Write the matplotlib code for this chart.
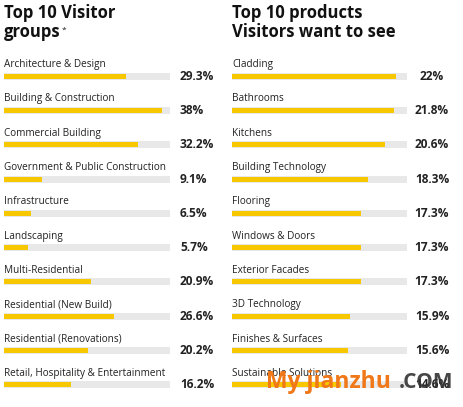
import matplotlib.pyplot as plt
import matplotlib.transforms as mtransforms

# data
visitor_groups = ['Architecture & Design', 'Building & Construction', 'Commercial Building',
                  'Government & Public Construction', 'Infrastructure', 'Landscaping',
                  'Multi-Residential', 'Residential (New Build)', 'Residential (Renovations)',
                  'Retail, Hospitality & Entertainment']
visitor_pct = [29.3, 38, 32.2, 9.1, 6.5, 5.7, 20.9, 26.6, 20.2, 16.2]

products = ['Cladding', 'Bathrooms', 'Kitchens', 'Building Technology', 'Flooring',
            'Windows & Doors', 'Exterior Facades', '3D Technology', 'Finishes & Surfaces',
            'Sustainable Solutions']
products_pct = [22, 21.8, 20.6, 18.3, 17.3, 17.3, 17.3, 15.9, 15.6, 14.6]

YELLOW = '#f7c800'
TRACK = '#e8e8e8'
DARK = '#222222'
FONT = 'Open Sans'

W, H = 463, 407
fig = plt.figure(figsize=(W / 100, H / 100), dpi=100)
fig.patch.set_facecolor('white')

row_px = 34.33
top_px = 76 - row_px / 2
bot_px = 385 + row_px / 2


def panel(x0, x1, vmax, labels, values, pct_x, pct_ha):
    ax = fig.add_axes([x0 / W, 1 - bot_px / H, (x1 - x0) / W, (bot_px - top_px) / H])
    ax.set_xlim(0, vmax)
    ax.set_ylim(len(labels) - 0.5, -0.5)
    ax.axis('off')
    rows = range(len(labels))
    ax.barh(rows, [vmax] * len(labels), height=7 / row_px, color=TRACK, linewidth=0)
    ax.barh(rows, values, height=5 / row_px, color=YELLOW, linewidth=0)
    trans = mtransforms.blended_transform_factory(ax.transAxes, ax.transData)
    for i, (lab, v) in enumerate(zip(labels, values)):
        ax.text(0, i - 9 / row_px, lab, fontsize=7.2, family=FONT, color=DARK,
                va='baseline', ha='left')
        ax.text(pct_x, i, f'{v:g}%', transform=trans, fontsize=8.6, family=FONT,
                fontweight='bold', color=DARK, va='center', ha=pct_ha, clip_on=False)
    return ax


panel(4, 170, 40, visitor_groups, visitor_pct, (180 - 4) / 166, 'left')
panel(232, 406.7, 23.5, products, products_pct, (432 - 232) / 174.7, 'center')

title_kw = dict(fontsize=12, family=FONT, fontweight='bold', color='#111111', va='baseline')
fig.text(4 / W, 1 - 18 / H, 'Top 10 Visitor', **title_kw)
g = fig.text(4 / W, 1 - 37 / H, 'groups', **title_kw)
fig.text(232 / W, 1 - 18 / H, 'Top 10 products', **title_kw)
fig.text(232 / W, 1 - 37 / H, 'Visitors want to see', **title_kw)
fig.canvas.draw()
plt.annotate('*', xy=(1, 1), xycoords=g, xytext=(0.5, -2.5), textcoords='offset points',
             fontsize=6, family=FONT, color=DARK, ha='left', va='top')

# watermark over the last row
fig.text(328 / W, 1 - 382 / H, 'My jianzhu', fontsize=16.5, family=FONT, fontweight='bold',
         color='#f07818', ha='center', va='center')
fig.text(426 / W, 1 - 383 / H, '.COM', fontsize=15, family=FONT, fontweight='bold',
         color='#333333', ha='center', va='center', alpha=0.9)

fig.savefig('out.png', dpi=100)
